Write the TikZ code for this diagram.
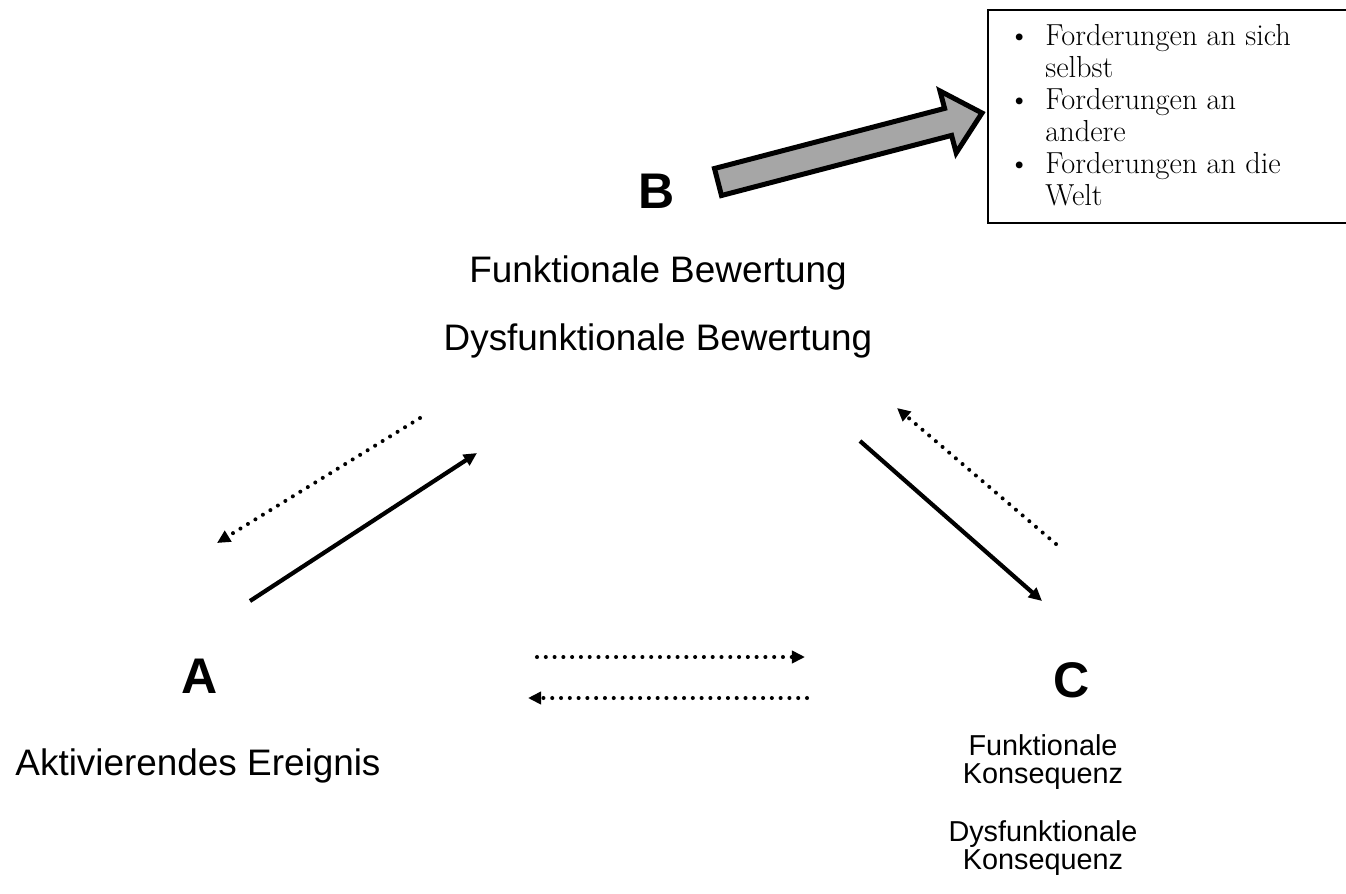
\documentclass[tikz,border=0pt]{standalone}
\usepackage{fontspec}
\setsansfont{Liberation Sans}
\usepackage{tikz}
\usetikzlibrary{arrows.meta}

\begin{document}
\begin{tikzpicture}[x=0.02cm,y=-0.02cm,
  letter/.style={font=\sffamily\bfseries\fontsize{28.5}{34}\selectfont,inner sep=0pt,anchor=base},
  txt/.style={font=\sffamily\fontsize{21}{25}\selectfont,inner sep=0pt,anchor=base},
  ctxt/.style={font=\sffamily\fontsize{16.4}{15.9}\selectfont,inner sep=0pt,anchor=base,align=center},
  firm/.style={line width=2.4pt,-{Triangle[length=7.5pt,width=7pt]}},
  loose/.style={line width=2.3pt,line cap=round,dash pattern=on 0pt off 5pt,-{Triangle[length=7.5pt,width=7pt]}}]
\useasboundingbox (0,0) rectangle (1346,893);

% the three corners
\node[letter] (a) at (200,693) {A};
\node[letter] (b) at (657,208) {B};
\node[letter] (c) at (1072,697) {C};

\node[txt] (ta) at (198,775) {Aktivierendes Ereignis};
\node[txt] (tb1) at (658,282) {Funktionale Bewertung};
\node[txt] (tb2) at (658,350) {Dysfunktionale Bewertung};
\node[ctxt] (tc1) at (1043,783) {Funktionale\\Konsequenz};
\node[ctxt] (tc2) at (1043,869) {Dysfunktionale\\Konsequenz};

% demands box
\node[draw,line width=1.1pt,anchor=north west,minimum width=7.46cm,minimum height=4.26cm] (box) at (987,9) {};
\node[anchor=base west,inner sep=0pt,align=left,font=\fontsize{17.3}{18.2}\selectfont] (list) at (1008,205)
  {\makebox[0.74cm][l]{\textbullet}Forderungen an sich\\
   \hspace*{0.74cm}selbst\\
   \makebox[0.74cm][l]{\textbullet}Forderungen an\\
   \hspace*{0.74cm}andere\\
   \makebox[0.74cm][l]{\textbullet}Forderungen an die\\
   \hspace*{0.74cm}Welt};

% big arrow from B to the box
\draw[line width=2.85pt,fill=black!35,line join=miter]
  (714.5,168.5) -- (944.6,108.4) -- (940,91) -- (982,113) -- (956.2,152.9)
  -- (951.6,135.4) -- (721.5,195.5) -- cycle;

% connectors
\coordinate (ab0) at (250,601);  \coordinate (ab1) at (477,453);
\coordinate (ba0) at (420,418);  \coordinate (ba1) at (217,543);
\coordinate (bc0) at (860,441);  \coordinate (bc1) at (1042,601);
\coordinate (cb0) at (1056,544); \coordinate (cb1) at (897,408);
\coordinate (ac0) at (537,657);  \coordinate (ac1) at (805,657);
\coordinate (ca0) at (807,698);  \coordinate (ca1) at (528,698);

\draw[firm] (ab0) -- (ab1);
\draw[loose] (ba0) -- (ba1);
\draw[firm] (bc0) -- (bc1);
\draw[loose] (cb0) -- (cb1);
\draw[loose] (ac0) -- (ac1);
\draw[loose] (ca0) -- (ca1);
\end{tikzpicture}
\end{document}
